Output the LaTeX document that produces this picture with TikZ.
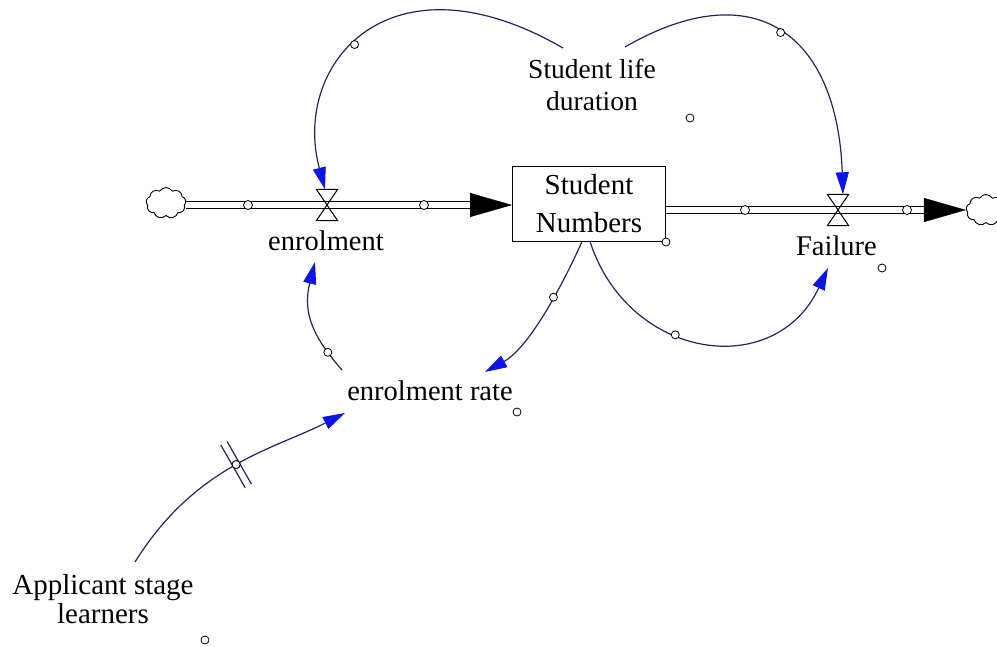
\documentclass[tikz,border=0pt]{standalone}
\usepackage{fontspec}
\setmainfont{Liberation Serif}
\usetikzlibrary{arrows.meta,shapes.symbols,calc}
\definecolor{linkc}{RGB}{35,35,95}
\definecolor{tipc}{RGB}{10,20,230}
\begin{document}
\begin{tikzpicture}[x=1pt,y=1pt,
  txt/.style={inner sep=0pt, font=\fontsize{28.5}{32}\selectfont, text height=18.5pt, text depth=0pt},
  mtxt/.style={inner sep=0pt, align=center},
  stockbox/.style={draw, line width=1pt, minimum width=153pt, minimum height=75pt, inner sep=0pt, align=center, font=\fontsize{29}{37.4}\selectfont},
  valvebox/.style={minimum width=21pt, minimum height=31pt, inner sep=0pt},
  valveline/.style={line width=1pt},
  pipe/.style={double, double distance=5.5pt, line width=1.1pt},
  flowtip/.style={-{Triangle[length=42pt,width=24pt]}, line width=0.4pt},
  link/.style={draw=linkc, line width=1.2pt, -{Triangle[length=22pt,width=13pt,color=tipc]}},
  hc/.style={circle, draw=black, fill=white, line width=0.8pt, inner sep=0pt, minimum size=8pt},
  pc/.style={hc, minimum size=9pt},
  cloudn/.style={cloud, cloud puffs=9, cloud puff arc=120, aspect=1.3, draw, line width=0.9pt, minimum width=40pt, minimum height=31pt, inner sep=0pt},
  delaym/.style={sloped, minimum width=6pt, minimum height=48pt, inner sep=0pt}
]
\useasboundingbox (0,0) rectangle (997,-646);

% stock, valves, clouds
\node[stockbox] (box) at (589,-203.5) {Student\\Numbers};
\node[valvebox] (v1) at (327,-205) {};
\node[valvebox] (v2) at (838,-210) {};
\node[cloudn] (c1) at (166,-203) {};
\node[cloudn] (c2) at (986,-210) {};

% labels
\node[txt] (enrl) at (326,-241) {enrolment};
\node[txt] (fail) at (836.5,-246) {Failure};
\node[txt] (rate) at (430,-391.5) {enrolment rate};
\node[mtxt, font=\fontsize{27.5}{32}\selectfont] (sld) at (592,-84.6) {Student life\\duration};
\node[mtxt, font=\fontsize{29}{28.4}\selectfont] (apl) at (103,-599) {Applicant stage\\learners};

% pipes
\draw[pipe] (c1.east |- v1) -- ($(box.west |- v1)+(-40,0)$);
\draw[flowtip] ($(box.west |- v1)+(-42,0)$) -- (box.west |- v1);
\draw[pipe] (box.east |- v2) -- ($(c2.west |- v2)+(-36,0)$);
\draw[flowtip] ($(c2.west |- v2)+(-38,0)$) -- (c2.west |- v2);

\draw[valveline] (v1.north west) -- (v1.north east) -- (v1.center) -- cycle;
\draw[valveline] (v1.south west) -- (v1.south east) -- (v1.center) -- cycle;
\draw[valveline] (v2.north west) -- (v2.north east) -- (v2.center) -- cycle;
\draw[valveline] (v2.south west) -- (v2.south east) -- (v2.center) -- cycle;

\node[pc] (p1) at (248,-205) {};
\node[pc] (p2) at (424,-205) {};
\node[pc] (p3) at (745,-210) {};
\node[pc] (p4) at (907,-210) {};

% links
\draw[link] ($(sld)+(-29,36.6)$) .. controls +(150:200) and +(105:130) .. ([xshift=-2pt]v1.north)
  node[pos=0.55, hc] (h1) {};
\draw[link] ($(sld)+(33,37.6)$) .. controls +(30:150) and +(92:160) .. ([xshift=5pt]v2.north)
  node[pos=0.5, hc] (h2) {};
\draw[link] ([xshift=-7pt]box.south) .. controls +(246:50) and +(29:50) .. ($(rate)+(55,19.5)$)
  node[pos=0.38, hc] (h3) {};
\draw[link] ([xshift=1pt]box.south) .. controls +(-72:125) and +(245:125) .. ($(fail)+(-8.5,-22)$)
  node[pos=0.4, hc] (h4) {};
\draw[link] ($(rate)+(-88,21.5)$) .. controls +(131:40) and +(256:55) .. ($(enrl)+(-11,-21)$)
  node[pos=0.2, hc] (h5) {};
\draw[link] ($(apl)+(32,37)$) .. controls +(58:115) and +(207:80) .. ($(rate)+(-85,-21.5)$)
  node[pos=0.5, delaym] (dm) {}
  node[pos=0.5, hc] (h6) {};
\draw[linkc, line width=1.2pt] (dm.north west) -- (dm.south west);
\draw[linkc, line width=1.2pt] (dm.north east) -- (dm.south east);
\node[hc] (h6b) at (h6) {};

% loose handles
\node[hc] (q1) at (666,-242) {};
\node[hc] (q2) at (882,-268) {};
\node[hc] (q3) at (690,-118) {};
\node[hc] (q4) at (517,-412) {};
\node[hc] (q5) at (205,-640) {};
\end{tikzpicture}
\end{document}
